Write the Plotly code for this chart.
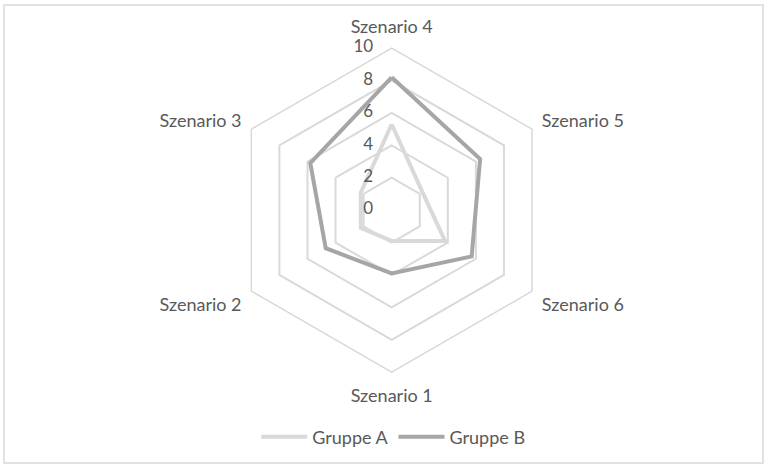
import plotly.graph_objects as go

# categories in clockwise order starting at the top
szenarien = ["Szenario 4", "Szenario 5", "Szenario 6", "Szenario 1", "Szenario 2", "Szenario 3"]
gruppe_a = [5.3, 2.2, 3.8, 1.9, 2.2, 2.2]
gruppe_b = [8.2, 6.3, 5.7, 3.9, 4.7, 5.8]
radial_ticks = [0, 2, 4, 6, 8, 10]

text_color = "#595959"
grid_color = "#d9d9d9"


def closed(vals):
    return list(vals) + [vals[0]]


def tick_labels(ticks, clip):
    # radial tick labels sit left of the vertical axis, like in Excel
    # (a point exactly at r=0 is dropped by plotly, so nudge it a hair)
    return go.Scatterpolar(
        r=[max(t, 1e-6) for t in ticks],
        theta=[szenarien[0]] * len(ticks),
        mode="markers+text",
        text=[str(t) for t in ticks],
        textposition="middle left",
        marker=dict(size=28, opacity=0),
        textfont=dict(size=17, color=text_color),
        cliponaxis=clip,
        showlegend=False,
        hoverinfo="skip",
    )


fig = go.Figure()

fig.add_trace(go.Scatterpolar(
    r=closed(gruppe_a),
    theta=closed(szenarien),
    name="Gruppe A",
    mode="lines",
    line=dict(color="#d9d9d9", width=4),
))

fig.add_trace(go.Scatterpolar(
    r=closed(gruppe_b),
    theta=closed(szenarien),
    name="Gruppe B",
    mode="lines",
    line=dict(color="#a6a6a6", width=4),
))

fig.add_trace(tick_labels(radial_ticks[:-1], True))
fig.add_trace(tick_labels(radial_ticks[-1:], False))

fig.update_layout(
    width=768,
    height=467,
    margin=dict(l=0, r=0, t=0, b=0),
    paper_bgcolor="white",
    font=dict(family="Lato", size=18, color=text_color),
    polar=dict(
        domain=dict(x=[0.299, 0.721], y=[0.203, 0.897]),
        gridshape="linear",
        bgcolor="white",
        angularaxis=dict(
            rotation=90,
            direction="clockwise",
            showgrid=False,
            showline=True,
            linecolor=grid_color,
            linewidth=1.5,
            ticks="outside",
            ticklen=7,
            tickcolor="rgba(0,0,0,0)",
            tickfont=dict(size=18, color=text_color),
        ),
        radialaxis=dict(
            range=[0, 10],
            tickvals=radial_ticks,
            angle=90,
            showticklabels=False,
            showline=False,
            ticks="",
            gridcolor=grid_color,
            gridwidth=1.5,
        ),
    ),
    showlegend=True,
    legend=dict(
        orientation="h",
        x=0.512,
        xanchor="center",
        y=0.064,
        yanchor="middle",
        itemwidth=46,
        font=dict(size=18, color=text_color),
    ),
    shapes=[dict(
        type="rect", xref="paper", yref="paper",
        x0=4 / 768, x1=763 / 768, y0=1 - 463 / 467, y1=1 - 5 / 467,
        line=dict(color="#d9d9d9", width=1.5),
    )],
)

fig.write_html("out.html", config={"displayModeBar": False},
               post_script="document.body.style.margin='0';")
